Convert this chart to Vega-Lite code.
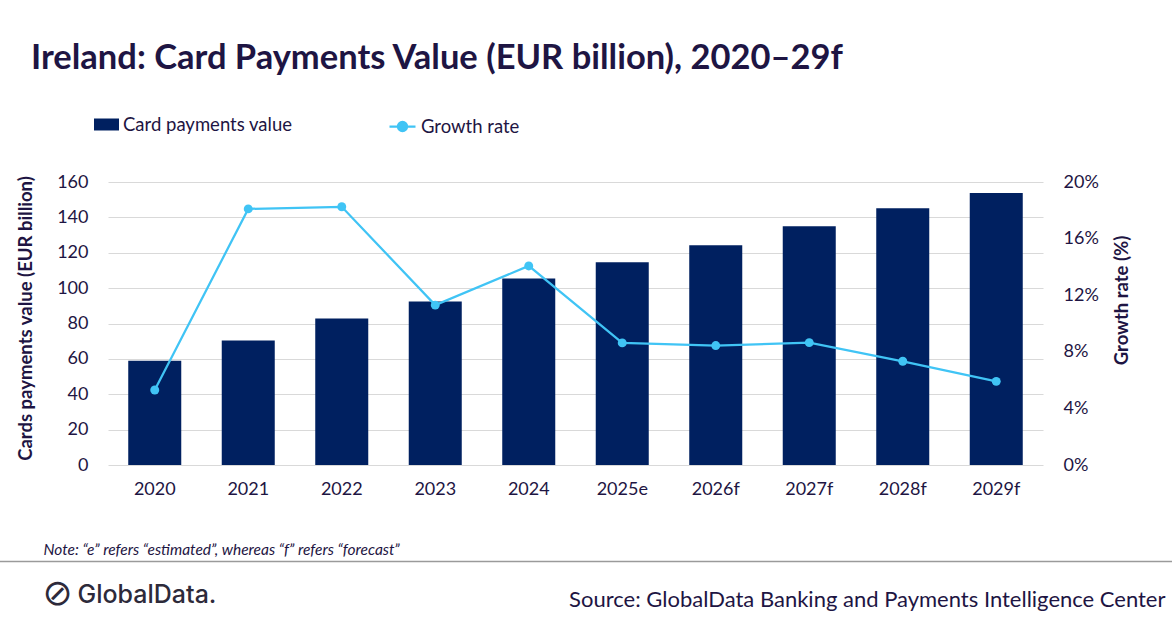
{
  "$schema": "https://vega.github.io/schema/vega-lite/v6.json",
  "description": "Ireland card payments value with growth rate, 2020-29f",
  "width": 935,
  "height": 283,
  "autosize": {"type": "none"},
  "padding": {"left": 108, "top": 182, "right": 129, "bottom": 163},
  "background": "white",
  "title": {
    "text": "Ireland: Card Payments Value (EUR billion), 2020–29f",
    "anchor": "start",
    "frame": "group",
    "dx": -77,
    "offset": 36,
    "font": "Lato",
    "fontSize": 34.5,
    "fontWeight": "bold",
    "color": "#1E1543"
  },
  "config": {
    "view": {"stroke": null},
    "axis": {
      "labelFont": "Lato",
      "titleFont": "Lato",
      "labelColor": "#1E1543",
      "titleColor": "#1E1543"
    },
    "legend": {"labelFont": "Lato", "labelFontSize": 18.5, "labelColor": "#1E1543", "labelLimit": 400}
  },
  "data": {
    "values": [
      {"year": "2020", "value": 59.0, "growth": 0.053},
      {"year": "2021", "value": 70.4, "growth": 0.181},
      {"year": "2022", "value": 82.8, "growth": 0.1825},
      {"year": "2023", "value": 92.5, "growth": 0.113},
      {"year": "2024", "value": 105.5, "growth": 0.1407},
      {"year": "2025e", "value": 114.6, "growth": 0.0863},
      {"year": "2026f", "value": 124.3, "growth": 0.0844},
      {"year": "2027f", "value": 135.0, "growth": 0.0865},
      {"year": "2028f", "value": 145.2, "growth": 0.0733},
      {"year": "2029f", "value": 153.8, "growth": 0.0591}
    ]
  },
  "resolve": {"scale": {"x": "independent", "y": "independent"}},
  "layer": [
    {
      "mark": {"type": "bar"},
      "encoding": {
        "x": {
          "field": "year", "type": "ordinal", "sort": null,
          "scale": {"type": "band", "paddingInner": 0.433, "paddingOuter": 0.2165},
          "axis": {
            "labelAngle": 0, "labelFontSize": 18, "labelPadding": 15,
            "ticks": false, "domain": false, "grid": false,
            "title": "Note: “e” refers “estimated”, whereas “f” refers “forecast”",
            "titleX": -65, "titleY": 89, "titleAlign": "left", "titleBaseline": "alphabetic",
            "titleFontStyle": "italic", "titleFontWeight": "normal", "titleFontSize": 15.5
          }
        },
        "y": {
          "field": "value", "type": "quantitative",
          "scale": {"domain": [0, 160], "nice": false},
          "axis": {
            "values": [0, 20, 40, 60, 80, 100, 120, 140, 160],
            "grid": true, "gridColor": "#D9D9D9", "domain": false, "ticks": false,
            "labelPadding": 20, "labelFontSize": 18,
            "title": "Cards payments value (EUR billion)",
            "titleFontSize": 18.5, "titleFontWeight": "bold",
            "titleX": -83, "titleY": 136, "titleAngle": -90,
            "titleAlign": "center", "titleBaseline": "middle"
          }
        },
        "fill": {
          "datum": "Card payments value",
          "scale": {"range": ["#002060"]},
          "legend": {
            "title": null, "orient": "none", "legendX": -14, "legendY": -70,
            "symbolType": "M-1,-0.48H1V0.48H-1Z", "symbolSize": 625, "symbolStrokeWidth": 0
          }
        }
      }
    },
    {
      "mark": {"type": "line", "strokeWidth": 2.25},
      "encoding": {
        "x": {
          "field": "year", "type": "ordinal", "sort": null, "bandPosition": 0.5,
          "scale": {"type": "band", "paddingInner": 0.433, "paddingOuter": 0.2165},
          "axis": {
            "labels": false, "ticks": false, "domain": false, "grid": false, "orient": "bottom",
            "title": "Source: GlobalData Banking and Payments Intelligence Center",
            "titleX": 1057, "titleY": 141, "titleAlign": "right", "titleBaseline": "alphabetic",
            "titleFontSize": 22, "titleFontWeight": "normal"
          }
        },
        "y": {
          "field": "growth", "type": "quantitative",
          "scale": {"domain": [0, 0.2], "nice": false},
          "axis": {
            "orient": "right",
            "values": [0, 0.04, 0.08, 0.12, 0.16, 0.2], "format": ".0%",
            "grid": false, "domain": false, "ticks": false,
            "labelPadding": 20, "labelFontSize": 18,
            "title": "Growth rate (%)",
            "titleFontSize": 18.5, "titleFontWeight": "bold",
            "titleX": 78, "titleY": 118, "titleAngle": -90,
            "titleAlign": "center", "titleBaseline": "middle"
          }
        },
        "stroke": {
          "datum": "Growth rate",
          "scale": {"range": ["#40C4F5"]},
          "legend": {
            "title": null, "orient": "none", "legendX": 280, "legendY": -70,
            "symbolType": "M-1,0H1M0.35,0A0.35,0.35 0 1,1 -0.35,0A0.35,0.35 0 1,1 0.35,0Z",
            "symbolSize": 676, "symbolStrokeWidth": 2.25, "symbolFillColor": "#40C4F5"
          }
        }
      }
    },
    {
      "mark": {"type": "point", "filled": true, "size": 80, "color": "#40C4F5", "opacity": 1},
      "encoding": {
        "x": {
          "field": "year", "type": "ordinal", "sort": null, "bandPosition": 0.5,
          "scale": {"type": "band", "paddingInner": 0.433, "paddingOuter": 0.2165},
          "axis": {
            "labels": false, "ticks": false, "domain": false, "grid": false, "orient": "bottom",
            "title": "GlobalData.",
            "titleX": -31, "titleY": 137, "titleAlign": "left", "titleBaseline": "alphabetic",
            "titleFont": "Inter", "titleFontSize": 25, "titleFontWeight": 500, "titleColor": "#2D2A3A"
          }
        },
        "y": {
          "field": "growth", "type": "quantitative",
          "scale": {"domain": [0, 0.2], "nice": false},
          "axis": {
            "orient": "left", "labels": false, "ticks": false, "domain": false, "grid": false,
            "title": "⊘",
            "titleX": -51, "titleY": 411, "titleAngle": 0,
            "titleAlign": "center", "titleBaseline": "middle",
            "titleFont": "DejaVu Sans", "titleFontSize": 36, "titleFontWeight": "normal", "titleColor": "#2D2A3A"
          }
        }
      }
    },
    {
      "data": {"values": [{"part": "footer"}]},
      "mark": {"type": "rule", "color": "#9A9A9A", "strokeWidth": 1.5},
      "encoding": {
        "x": {"datum": 0, "type": "quantitative", "scale": {"domain": [108, 1043], "nice": false, "zero": false}, "axis": null},
        "x2": {"datum": 1172},
        "y": {"datum": -54.5, "type": "quantitative", "scale": {"domain": [0, 160], "nice": false}, "axis": null}
      }
    }
  ]
}
